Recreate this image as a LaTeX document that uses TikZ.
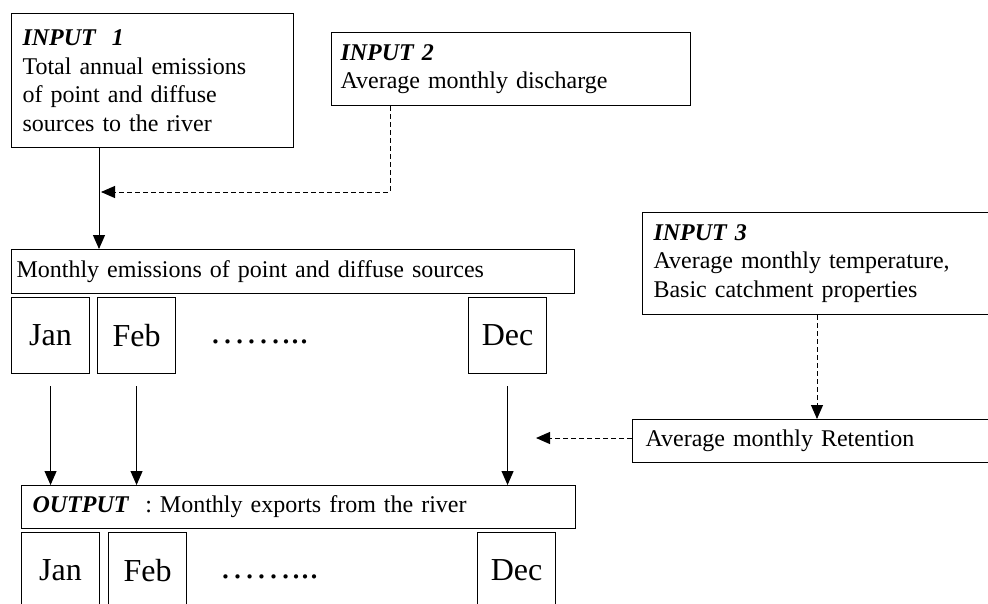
\documentclass[tikz,border=0pt]{standalone}
\usepackage{fontspec}
\setmainfont{Liberation Serif}
\usetikzlibrary{arrows.meta}

\newcommand{\inlabel}[1]{\textbf{\textit{#1}}}

\begin{document}
\begin{tikzpicture}[x=1pt, y=-1pt, line width=1.1pt,
  box/.style={draw, rectangle, anchor=north west, align=left, inner ysep=0pt,
    font=\fontsize{24}{28.5}\selectfont},
  monthbox/.style={draw, rectangle, anchor=north west, inner sep=0pt,
    minimum width=78pt, minimum height=76pt, font=\fontsize{32}{36}\selectfont},
  arr/.style={line width=1pt, -{Triangle[length=14pt,width=12pt]}},
  dasharr/.style={arr, dash pattern=on 5pt off 3pt}]
  \clip (0,0) rectangle (988,603);

  % inputs
  \node[box, inner xsep=11pt, text width=260pt, minimum height=134pt] (in1) at (11,13)
    {\inlabel{INPUT\ \ 1}\\Total annual emissions\\of point and diffuse\\sources to the river};
  \node[box, inner xsep=9pt, text width=341pt, minimum height=73pt] (in2) at (331,32)
    {\inlabel{INPUT 2}\\Average monthly discharge};
  \node[box, inner xsep=11pt, text width=380pt, minimum height=102pt] (in3) at (642,212)
    {\inlabel{INPUT 3}\\Average monthly temperature,\\Basic catchment properties};

  % monthly emissions
  \node[box, inner xsep=5pt, text width=553pt, minimum height=44pt] (monthly) at (11,249)
    {Monthly emissions of point and diffuse sources};
  \node[monthbox] (jan) at (11,297) {Jan};
  \node[monthbox] (feb) at (97,297) {Feb};
  \node[monthbox] (dec) at (468,297) {Dec};
  \node[anchor=base west, inner sep=0pt, font=\fontsize{36}{40}\selectfont] (dots) at (209,343) {……...};

  % retention
  \node[box, inner xsep=13pt, text width=380pt, minimum height=43pt] (ret) at (632,419)
    {Average monthly Retention};

  % output
  \node[box, inner xsep=11pt, text width=532pt, minimum height=43pt] (out) at (21,485)
    {\inlabel{OUTPUT}\ \ : Monthly exports from the river};
  \node[monthbox] (ojan) at (21,532) {Jan};
  \node[monthbox] (ofeb) at (108,532) {Feb};
  \node[monthbox] (odec) at (477,532) {Dec};
  \node[anchor=base west, inner sep=0pt, font=\fontsize{36}{40}\selectfont] (odots) at (219,578) {……...};

  % connectors
  \coordinate (join) at (101,192);
  \coordinate (retend) at (536,438);
  \draw[arr] (in1.south -| 99,0) -- (monthly.north -| 99,0);
  \draw[dasharr] (in2.south -| 390,0) |- (join);
  \draw[dasharr] (in3.south -| 817,0) -- (ret.north -| 817,0);
  \draw[dasharr] (ret.west |- retend) -- (retend);
  \draw[arr] ([yshift=-12pt]jan.south) -- (jan.south |- out.north);
  \draw[arr] ([yshift=-12pt]feb.south) -- (feb.south |- out.north);
  \draw[arr] ([yshift=-12pt]dec.south) -- (dec.south |- out.north);
\end{tikzpicture}
\end{document}
